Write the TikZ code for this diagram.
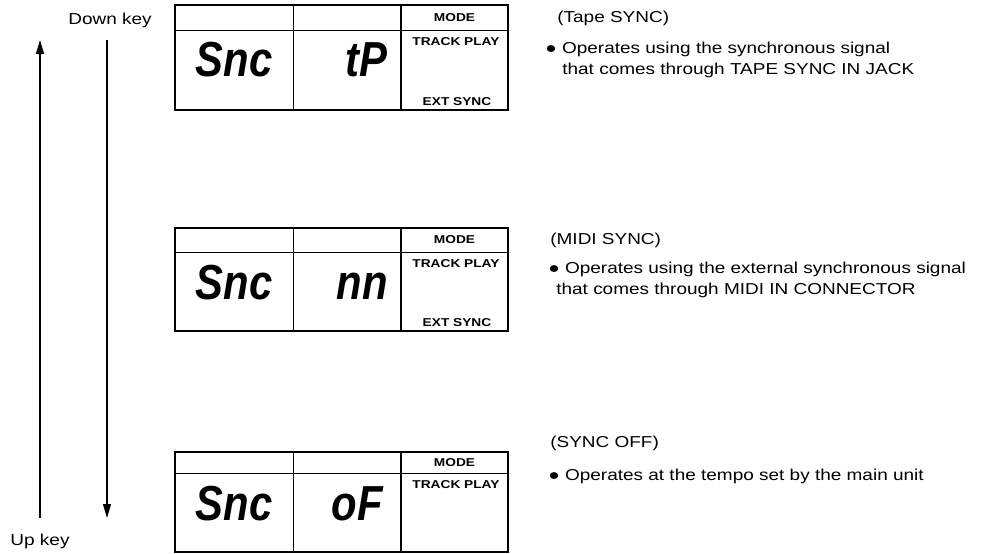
\documentclass[tikz,border=0pt]{standalone}
\usepackage{fontspec}
\setmainfont{Liberation Sans}[FakeStretch=1.2]
\newfontfamily\lcdfont{Liberation Sans}[FakeStretch=0.85]
\usetikzlibrary{positioning, arrows.meta}

\begin{document}
\begin{tikzpicture}[x=0.02cm, y=-0.02cm,
    lcd/.style={font=\lcdfont\bfseries\itshape\fontsize{28}{28}\selectfont, inner sep=0pt, anchor=base},
    tag/.style={font=\bfseries\fontsize{6.5}{7}\selectfont, inner sep=0pt},
    note/.style={font=\fontsize{9}{11}\selectfont, inner sep=0pt, anchor=base west},
    key/.style={-{Triangle[length=2.8mm, width=1.6mm]}, line width=0.7pt}]
  \useasboundingbox (0,0) rectangle (981,554);
  \foreach \p/\t/\r/\b in {tape/5/30/110, midi/228/252/331, off/452/473/552} {
    \draw[line width=1pt] (175,\t) rectangle (508,\b);
    \draw[line width=0.5pt] (175,\r) -- (508,\r) (293,\t) -- (293,\b);
    \draw[line width=0.9pt] (401,\t) -- (401,\b);
    \node[tag] (\p-mode) at (454.5,{(\t+\r)/2}) {MODE};
    \node[tag] (\p-play) at (456,\r+12) {TRACK PLAY};
    \node[lcd] (\p-snc) at (234,\r+47) {Snc};
  }
  \node[lcd] (tape-val) at (366,77) {tP};
  \node[lcd] (midi-val) at (362,299) {nn};
  \node[lcd] (off-val) at (357,520) {oF};
  \node[tag] (tape-ext) at (457,102) {EXT SYNC};
  \node[tag] (midi-ext) at (457,323) {EXT SYNC};

  \node[note] (tape-head) at (557,23) {(Tape SYNC)};
  \node[note] (tape-l1) at (545,54) {● Operates using the synchronous signal};
  \node[note] (tape-l2) at (562,75) {that comes through TAPE SYNC IN JACK};
  \node[note] (midi-head) at (550,244) {(MIDI SYNC)};
  \node[note] (midi-l1) at (548,274) {● Operates using the external synchronous signal};
  \node[note] (midi-l2) at (556,294) {that comes through MIDI IN CONNECTOR};
  \node[note] (off-head) at (550,447) {(SYNC OFF)};
  \node[note] (off-l1) at (548,480) {● Operates at the tempo set by the main unit};

  \node[note, anchor=base] (downkey) at (110,25) {Down key};
  \node[note, anchor=base] (upkey) at (40,545) {Up key};
  \coordinate (up-from) at (40,518);
  \coordinate (up-to) at (40,40);
  \coordinate (down-from) at (107,40);
  \coordinate (down-to) at (107,518);
  \draw[key] (up-from) -- (up-to);
  \draw[key] (down-from) -- (down-to);
\end{tikzpicture}
\end{document}
